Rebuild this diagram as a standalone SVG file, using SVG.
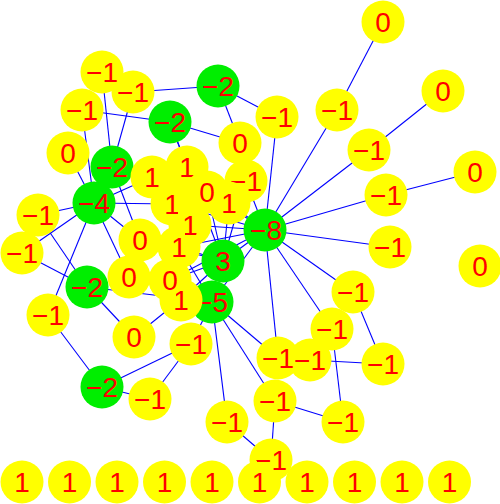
<svg xmlns="http://www.w3.org/2000/svg" width="500" height="504" viewBox="0 0 500 504">
<style>
.e{stroke:#0000ff;stroke-width:1.1;fill:none}
.y{fill:#ffff00}
.g{fill:#00ee00}
text{font-family:"Liberation Sans",Arial,sans-serif;font-size:28px;fill:#ff0000;text-anchor:middle}
</style>
<defs>
<mask id="m-y2"><rect width="500" height="504" fill="#fff"/><rect x="104" y="61" width="14" height="22" fill="#000"/></mask>
<mask id="m-c5"><rect width="500" height="504" fill="#fff"/><rect x="199" y="181" width="16" height="23" fill="#000"/></mask>
<mask id="m-c6"><rect width="500" height="504" fill="#fff"/><rect x="167" y="193" width="11" height="22" fill="#000"/></mask>
<mask id="m-c10"><rect width="500" height="504" fill="#fff"/><rect x="185" y="214" width="11" height="22" fill="#000"/></mask>
<mask id="m-c12"><rect width="500" height="504" fill="#fff"/><rect x="176" y="289" width="11" height="22" fill="#000"/></mask>
<mask id="m-r12"><rect width="500" height="504" fill="#fff"/><rect x="295" y="349" width="12" height="22" fill="#000"/></mask>
<mask id="m-b6"><rect width="500" height="504" fill="#fff"/><rect x="257" y="449" width="30" height="22" fill="#000"/></mask>
</defs>
<rect width="500" height="504" fill="#ffffff"/>
<g id="edges">
<line class="e" x1="102" y1="72" x2="112" y2="167"/>
<line class="e" x1="133" y1="92" x2="112" y2="167"/>
<line class="e" x1="133" y1="92" x2="218" y2="86"/>
<line class="e" x1="82" y1="110" x2="170" y2="122"/>
<line class="e" x1="82" y1="110" x2="94" y2="203"/>
<line class="e" x1="68" y1="153" x2="94" y2="203"/>
<line class="e" x1="38" y1="215" x2="94" y2="203"/>
<line class="e" x1="38" y1="215" x2="87" y2="287"/>
<line class="e" x1="22" y1="253" x2="94" y2="203"/>
<line class="e" x1="22" y1="253" x2="87" y2="287"/>
<line class="e" x1="94" y1="203" x2="48" y2="315"/>
<line class="e" x1="48" y1="315" x2="102" y2="387"/>
<line class="e" x1="87" y1="287" x2="134" y2="337"/>
<line class="e" x1="87" y1="287" x2="212" y2="302"/>
<line class="e" x1="102" y1="387" x2="191" y2="344"/>
<line class="e" x1="102" y1="387" x2="150" y2="399"/>
<line class="e" x1="150" y1="399" x2="191" y2="344"/>
<line class="e" x1="191" y1="344" x2="212" y2="302"/>
<line class="e" x1="134" y1="337" x2="180" y2="300"/>
<line class="e" x1="94" y1="203" x2="172" y2="204"/>
<line class="e" x1="94" y1="203" x2="140" y2="240"/>
<line class="e" x1="94" y1="203" x2="129" y2="277"/>
<line class="e" x1="112" y1="167" x2="140" y2="240"/>
<line class="e" x1="94" y1="203" x2="152" y2="177"/>
<line class="e" x1="218" y1="86" x2="277" y2="117"/>
<line class="e" x1="218" y1="86" x2="240" y2="143"/>
<line class="e" x1="170" y1="122" x2="240" y2="143"/>
<line class="e" x1="170" y1="122" x2="187" y2="167"/>
<line class="e" x1="170" y1="122" x2="223" y2="261"/>
<line class="e" x1="277" y1="117" x2="265" y2="230"/>
<line class="e" x1="337" y1="110" x2="265" y2="230"/>
<line class="e" x1="337" y1="110" x2="383" y2="22"/>
<line class="e" x1="369" y1="150" x2="265" y2="230"/>
<line class="e" x1="369" y1="150" x2="443" y2="91"/>
<line class="e" x1="386" y1="195" x2="265" y2="230"/>
<line class="e" x1="386" y1="195" x2="475" y2="172"/>
<line class="e" x1="390" y1="247" x2="265" y2="230"/>
<line class="e" x1="353" y1="292" x2="265" y2="230"/>
<line class="e" x1="332" y1="329" x2="265" y2="230"/>
<line class="e" x1="278" y1="358" x2="265" y2="230"/>
<line class="e" x1="353" y1="292" x2="383" y2="364"/>
<line class="e" x1="310" y1="360" x2="383" y2="364"/>
<line class="e" x1="332" y1="329" x2="343" y2="422"/>
<line class="e" x1="275" y1="401" x2="343" y2="422"/>
<line class="e" x1="275" y1="401" x2="271" y2="460"/>
<line class="e" x1="227" y1="422" x2="271" y2="460"/>
<line class="e" x1="212" y1="302" x2="278" y2="358"/>
<line class="e" x1="212" y1="302" x2="275" y2="401"/>
<line class="e" x1="212" y1="302" x2="227" y2="422"/>
<line class="e" x1="246" y1="181" x2="265" y2="230"/>
<line class="e" x1="229" y1="203" x2="265" y2="230"/>
<line class="e" x1="190" y1="225" x2="265" y2="230"/>
<line class="e" x1="207" y1="192" x2="265" y2="230"/>
<line class="e" x1="172" y1="204" x2="265" y2="230"/>
<line class="e" x1="179" y1="247" x2="265" y2="230"/>
<line class="e" x1="223" y1="261" x2="265" y2="230"/>
<line class="e" x1="212" y1="302" x2="265" y2="230"/>
<line class="e" x1="170" y1="280" x2="223" y2="261"/>
<line class="e" x1="180" y1="300" x2="223" y2="261"/>
<line class="e" x1="179" y1="247" x2="223" y2="261"/>
<line class="e" x1="140" y1="240" x2="179" y2="247"/>
<line class="e" x1="129" y1="277" x2="170" y2="280"/>
<line class="e" x1="170" y1="280" x2="265" y2="230"/>
<line class="e" x1="140" y1="240" x2="223" y2="261"/>
<line class="e" x1="229" y1="203" x2="223" y2="261"/>
<line class="e" x1="207" y1="192" x2="223" y2="261"/>
<line class="e" x1="246" y1="181" x2="223" y2="261"/>
<line class="e" x1="179" y1="247" x2="212" y2="302"/>
</g>
<g id="nodes">
<g id="n-y1"><circle class="y" cx="102" cy="72" r="21.5"/><text x="102" y="82">−1</text></g>
<g id="n-y2"><circle class="y" cx="133" cy="92" r="21.5" mask="url(#m-y2)"/><text x="133" y="102">−1</text></g>
<g id="n-y3"><circle class="y" cx="82" cy="110" r="21.5"/><text x="82" y="120">−1</text></g>
<g id="n-y4"><circle class="y" cx="68" cy="153" r="21.5"/><text x="68" y="163">0</text></g>
<g id="n-y5"><circle class="y" cx="38" cy="215" r="21.5"/><text x="38" y="225">−1</text></g>
<g id="n-y6"><circle class="y" cx="22" cy="253" r="21.5"/><text x="22" y="263">−1</text></g>
<g id="n-y7"><circle class="y" cx="48" cy="315" r="21.5"/><text x="48" y="325">−1</text></g>
<g id="n-g1"><circle class="g" cx="218" cy="86" r="21.5"/><text x="218" y="96">−2</text></g>
<g id="n-g2"><circle class="g" cx="170" cy="122" r="21.5"/><text x="170" y="132">−2</text></g>
<g id="n-g3"><circle class="g" cx="112" cy="167" r="21.5"/><text x="112" y="177">−2</text></g>
<g id="n-g4"><circle class="g" cx="94" cy="203" r="21.5"/><text x="94" y="213">−4</text></g>
<g id="n-g8"><circle class="g" cx="87" cy="287" r="21.5"/><text x="87" y="297">−2</text></g>
<g id="n-g9"><circle class="g" cx="102" cy="387" r="21.5"/><text x="102" y="397">−2</text></g>
<g id="n-y8"><circle class="y" cx="134" cy="337" r="21.5"/><text x="134" y="347">0</text></g>
<g id="n-y10"><circle class="y" cx="150" cy="399" r="21.5"/><text x="150" y="409">−1</text></g>
<g id="n-y9"><circle class="y" cx="191" cy="344" r="21.5"/><text x="191" y="354">−1</text></g>
<g id="n-c8"><circle class="y" cx="240" cy="143" r="21.5"/><text x="240" y="153">0</text></g>
<g id="n-c7"><circle class="y" cx="246" cy="181" r="21.5"/><text x="246" y="191">−1</text></g>
<g id="n-r1"><circle class="y" cx="277" cy="117" r="21.5"/><text x="277" y="127">−1</text></g>
<g id="n-g5"><circle class="g" cx="265" cy="230" r="21.5"/><text x="266" y="240">−8</text></g>
<g id="n-g6"><circle class="g" cx="223" cy="261" r="21.5"/><text x="223" y="271">3</text></g>
<g id="n-g7"><circle class="g" cx="212" cy="302" r="21.5"/><text x="212" y="312">−5</text></g>
<g id="n-c1"><circle class="y" cx="152" cy="177" r="21.5"/><text x="152" y="187">1</text></g>
<g id="n-c2"><circle class="y" cx="187" cy="167" r="21.5"/><text x="187" y="177">1</text></g>
<g id="n-c3"><circle class="y" cx="207" cy="192" r="21.5"/><text x="207" y="202">0</text></g>
<g id="n-c5"><circle class="y" cx="229" cy="203" r="21.5" mask="url(#m-c5)"/><text x="229" y="213">1</text></g>
<g id="n-c4"><circle class="y" cx="172" cy="204" r="21.5"/><text x="172" y="214">1</text></g>
<g id="n-c6"><circle class="y" cx="190" cy="225" r="21.5" mask="url(#m-c6)"/><text x="190" y="235">1</text></g>
<g id="n-c9"><circle class="y" cx="140" cy="240" r="21.5"/><text x="140" y="250">0</text></g>
<g id="n-c10"><circle class="y" cx="179" cy="247" r="21.5" mask="url(#m-c10)"/><text x="179" y="257">1</text></g>
<g id="n-c11"><circle class="y" cx="129" cy="277" r="21.5"/><text x="129" y="287">0</text></g>
<g id="n-c13"><circle class="y" cx="181" cy="300" r="21.5"/><text x="181" y="310">1</text></g>
<g id="n-c12"><circle class="y" cx="170" cy="280" r="21.5" mask="url(#m-c12)"/><text x="170" y="290">0</text></g>
<g id="n-r2"><circle class="y" cx="337" cy="110" r="21.5"/><text x="337" y="120">−1</text></g>
<g id="n-r3"><circle class="y" cx="383" cy="22" r="21.5"/><text x="383" y="32">0</text></g>
<g id="n-r4"><circle class="y" cx="443" cy="91" r="21.5"/><text x="443" y="101">0</text></g>
<g id="n-r5"><circle class="y" cx="369" cy="150" r="21.5"/><text x="369" y="160">−1</text></g>
<g id="n-r6"><circle class="y" cx="475" cy="172" r="21.5"/><text x="475" y="182">0</text></g>
<g id="n-r7"><circle class="y" cx="386" cy="195" r="21.5"/><text x="386" y="205">−1</text></g>
<g id="n-r8"><circle class="y" cx="390" cy="247" r="21.5"/><text x="390" y="257">−1</text></g>
<g id="n-r9"><circle class="y" cx="480" cy="266" r="21.5"/><text x="480" y="276">0</text></g>
<g id="n-r10"><circle class="y" cx="353" cy="292" r="21.5"/><text x="353" y="302">−1</text></g>
<g id="n-r11"><circle class="y" cx="332" cy="329" r="21.5"/><text x="332" y="339">−1</text></g>
<g id="n-r13"><circle class="y" cx="310" cy="360" r="21.5"/><text x="310" y="370">−1</text></g>
<g id="n-r12"><circle class="y" cx="278" cy="358" r="21.5" mask="url(#m-r12)"/><text x="278" y="368">−1</text></g>
<g id="n-r14"><circle class="y" cx="383" cy="364" r="21.5"/><text x="383" y="374">−1</text></g>
<g id="n-r15"><circle class="y" cx="275" cy="401" r="21.5"/><text x="275" y="411">−1</text></g>
<g id="n-r16"><circle class="y" cx="343" cy="422" r="21.5"/><text x="343" y="432">−1</text></g>
<g id="n-r17"><circle class="y" cx="227" cy="422" r="21.5"/><text x="227" y="432">−1</text></g>
<g id="n-r18"><circle class="y" cx="271" cy="460" r="21.5"/><text x="271" y="470">−1</text></g>
<g id="n-b1"><circle class="y" cx="22" cy="482" r="21.5"/><text x="22" y="492">1</text></g>
<g id="n-b2"><circle class="y" cx="69.5" cy="482" r="21.5"/><text x="69.5" y="492">1</text></g>
<g id="n-b3"><circle class="y" cx="117" cy="482" r="21.5"/><text x="117" y="492">1</text></g>
<g id="n-b4"><circle class="y" cx="164.5" cy="482" r="21.5"/><text x="164.5" y="492">1</text></g>
<g id="n-b5"><circle class="y" cx="212" cy="482" r="21.5"/><text x="212" y="492">1</text></g>
<g id="n-b6"><circle class="y" cx="259.5" cy="482" r="21.5" mask="url(#m-b6)"/><text x="259.5" y="492">1</text></g>
<g id="n-b7"><circle class="y" cx="307" cy="482" r="21.5"/><text x="307" y="492">1</text></g>
<g id="n-b8"><circle class="y" cx="354.5" cy="482" r="21.5"/><text x="354.5" y="492">1</text></g>
<g id="n-b9"><circle class="y" cx="402" cy="482" r="21.5"/><text x="402" y="492">1</text></g>
<g id="n-b10"><circle class="y" cx="449.5" cy="482" r="21.5"/><text x="449.5" y="492">1</text></g>
</g>
</svg>
